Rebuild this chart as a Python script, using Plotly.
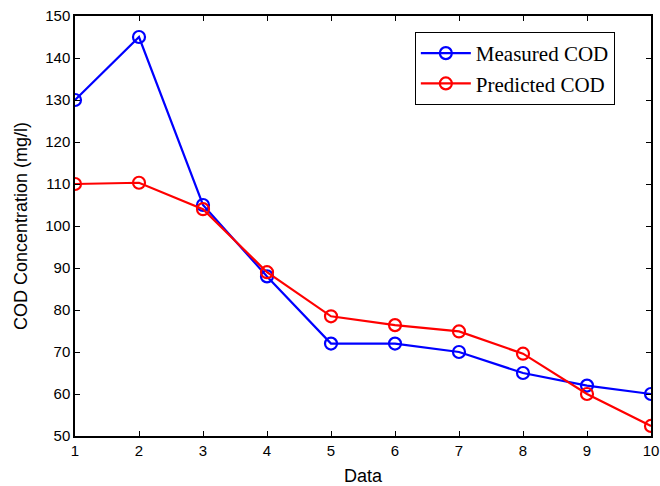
import plotly.graph_objects as go

data_idx = [1, 2, 3, 4, 5, 6, 7, 8, 9, 10]
measured_cod = [130, 145, 105, 88, 72, 72, 70, 65, 62, 60]
predicted_cod = [110, 110.3, 104, 89, 78.5, 76.4, 74.9, 69.6, 60, 52.4]

fig = go.Figure()
fig.add_trace(go.Scatter(x=data_idx, y=measured_cod, mode="lines+markers", name="Measured COD",
                         line=dict(color="#0000ff", width=2.2),
                         marker=dict(symbol="circle-open", size=12, color="#0000ff", line=dict(width=2.2))))
fig.add_trace(go.Scatter(x=data_idx, y=predicted_cod, mode="lines+markers", name="Predicted COD",
                         line=dict(color="#ff0000", width=2.2),
                         marker=dict(symbol="circle-open", size=12, color="#ff0000", line=dict(width=2.2))))

axis_common = dict(showgrid=False, zeroline=False, showline=True, linecolor="black", linewidth=1.5,
                   mirror="ticks", ticks="inside", ticklen=5, tickcolor="black", automargin=False,
                   ticklabeloverflow="allow",
                   tickfont=dict(family="Liberation Sans, Arial", size=15, color="black"))
fig.update_xaxes(range=[1, 10], dtick=1, title=dict(text="Data", font=dict(family="Liberation Sans, Arial", size=18, color="black"), standoff=12), **axis_common)
fig.update_yaxes(range=[50, 150], dtick=10, title=dict(text="COD Concentration (mg/l)", font=dict(family="Liberation Sans, Arial", size=18, color="black"), standoff=13), **axis_common)

fig.update_layout(
    width=660, height=486,
    margin=dict(l=75, r=9, t=16, b=50),
    plot_bgcolor="white", paper_bgcolor="white",
    showlegend=True,
    legend=dict(x=0.59, y=0.962, xanchor="left", yanchor="top",
                bordercolor="black", borderwidth=1, bgcolor="white",
                font=dict(family="Liberation Serif, Times New Roman", size=21, color="black"),
                tracegroupgap=0, itemwidth=50),
)
fig.write_html("out.html", config={"displayModeBar": False},
               post_script="document.body.style.margin='0';document.body.style.overflow='hidden';")
